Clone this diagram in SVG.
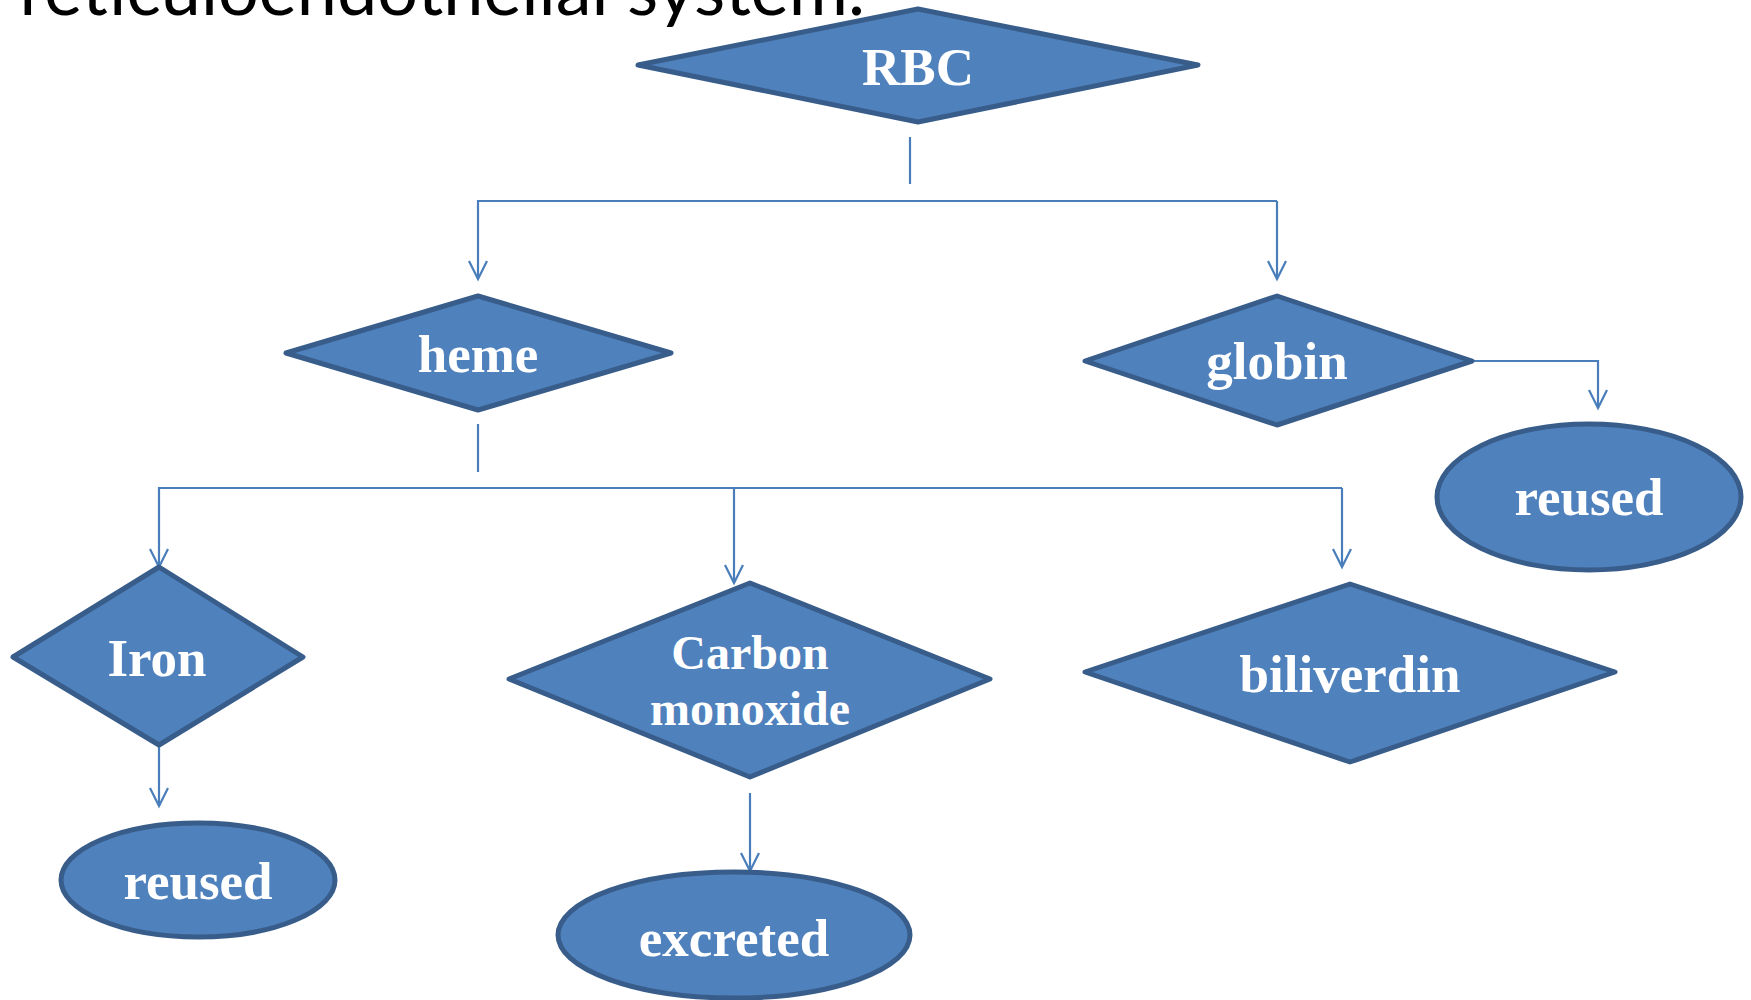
<svg xmlns="http://www.w3.org/2000/svg" width="1751" height="1000" viewBox="0 0 1751 1000">
<defs>
<style>
.n{fill:#4F81BD;stroke:#385D8A;stroke-width:5;stroke-linejoin:round}
.t{font-family:"Liberation Serif","Times New Roman",serif;font-weight:bold;font-size:53px;fill:#FFFFFF;text-anchor:middle}
.c{fill:none;stroke:#4A7EBB;stroke-width:2.2}
.a{marker-end:url(#arr)}
.title{font-family:Lato,"Liberation Sans",sans-serif;font-size:72px;fill:#000000;text-anchor:end}
</style>
<marker id="arr" markerUnits="userSpaceOnUse" markerWidth="24" markerHeight="24" refX="20" refY="12" orient="auto" viewBox="0 0 24 24">
<path d="M2,3 L20,12 L2,21" fill="none" stroke="#4A7EBB" stroke-width="2.2"/>
</marker>
</defs>
<rect width="1751" height="1000" fill="#FFFFFF"/>
<text class="title" x="865" y="15">reticuloendothelial system.</text>
<g id="connectors">
<line class="c" x1="910" y1="137" x2="910" y2="184"/>
<polyline class="c a" points="1277,201 478,201 478,279"/>
<line class="c a" x1="1277" y1="201" x2="1277" y2="279"/>
<line class="c" x1="478" y1="424" x2="478" y2="472"/>
<polyline class="c a" points="1342,488 159,488 159,567"/>
<line class="c a" x1="734" y1="488" x2="734" y2="583"/>
<line class="c a" x1="1342" y1="488" x2="1342" y2="567"/>
<line class="c a" x1="159" y1="745" x2="159" y2="806"/>
<line class="c a" x1="750" y1="793" x2="750" y2="871"/>
<polyline class="c a" points="1472,361 1598,361 1598,408"/>
</g>
<g id="rbc">
<polygon class="n" points="638,65 918,9 1198,65 918,122"/>
<text class="t" x="918" y="85">RBC</text>
</g>
<g id="heme">
<polygon class="n" points="286,353 478,296 671,353 478,410"/>
<text class="t" x="478" y="372">heme</text>
</g>
<g id="globin">
<polygon class="n" points="1085,361 1277,296 1472,361 1277,425"/>
<text class="t" x="1277" y="379">globin</text>
</g>
<g id="reused-globin">
<ellipse class="n" cx="1589" cy="497" rx="152" ry="73"/>
<text class="t" x="1589" y="515">reused</text>
</g>
<g id="iron">
<polygon class="n" points="13,657 159,567 303,657 159,745"/>
<text class="t" x="157" y="676">Iron</text>
</g>
<g id="reused-iron">
<ellipse class="n" cx="198" cy="880" rx="137" ry="57"/>
<text class="t" x="198" y="899">reused</text>
</g>
<g id="carbon-monoxide">
<polygon class="n" points="509,679 750,583 990,679 750,777"/>
<text class="t" x="750" y="669" style="font-size:48px">Carbon</text>
<text class="t" x="750" y="725" style="font-size:48px">monoxide</text>
</g>
<g id="excreted">
<ellipse class="n" cx="734" cy="935" rx="176" ry="63"/>
<text class="t" x="734" y="956">excreted</text>
</g>
<g id="biliverdin">
<polygon class="n" points="1085,672 1350,584 1615,672 1350,762"/>
<text class="t" x="1350" y="692">biliverdin</text>
</g>
</svg>
